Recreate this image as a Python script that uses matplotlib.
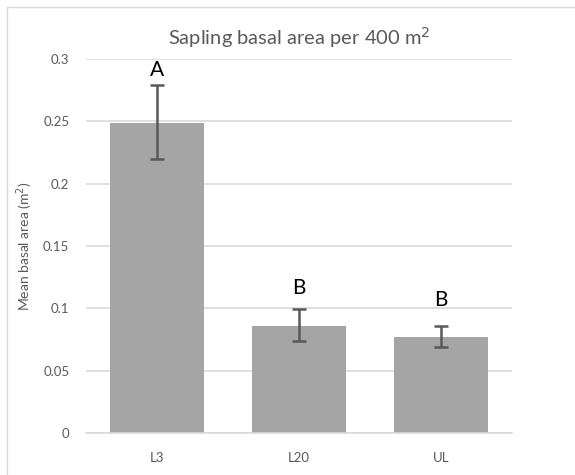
import numpy as np
import matplotlib.pyplot as plt
from matplotlib.patches import Rectangle

# 数据
categories = ["L3", "L20", "UL"]
means = [0.249, 0.086, 0.0773]
err_low = [0.029, 0.0122, 0.0086]
err_high = [0.030, 0.0132, 0.0083]
letters = ["A", "B", "B"]
letter_y = [0.291, 0.116, 0.107]
yticks = [0, 0.05, 0.1, 0.15, 0.2, 0.25, 0.3]
ytick_labels = ["0", "0.05", "0.1", "0.15", "0.2", "0.25", "0.3"]

plt.rcParams["font.family"] = ["Lato", "DejaVu Sans"]

fig = plt.figure(figsize=(5.75, 4.75), dpi=100)
# 外框
fig.patches.append(Rectangle((7 / 575, -0.1), 1.2, 1 - 7 / 475 + 0.1,
                             transform=fig.transFigure, fill=False,
                             edgecolor="#d9d9d9", linewidth=1))

ax = fig.add_axes([0.1496, 0.0884, 0.7409, 0.7874])
x = np.arange(len(categories))
ax.bar(x, means, width=0.66, color="#a5a5a5", zorder=2)
ax.errorbar(x, means, yerr=[err_low, err_high], fmt="none",
            ecolor="#595959", elinewidth=1.8, capsize=5, capthick=1.8, zorder=3)
for xi, lab, ly in zip(x, letters, letter_y):
    ax.text(xi, ly, lab, ha="center", va="center", fontsize=15, color="black")

ax.set_xlim(-0.5, 2.5)
ax.set_ylim(0, 0.3)
ax.set_yticks(yticks)
ax.set_yticklabels(ytick_labels)
ax.set_xticks(x)
ax.set_xticklabels(categories)
ax.yaxis.grid(True, color="#d9d9d9", linewidth=1.2, zorder=0)
ax.set_axisbelow(True)
for s in ["top", "right", "left"]:
    ax.spines[s].set_visible(False)
ax.spines["bottom"].set_color("#d9d9d9")
ax.spines["bottom"].set_linewidth(1.2)
ax.tick_params(axis="both", length=0, colors="#595959", labelsize=9.5)
ax.tick_params(axis="x", pad=14)
ax.tick_params(axis="y", pad=12)

ax.set_ylabel("Mean basal area (m$^2$)", fontsize=10, color="#595959", labelpad=6)
ax.set_title("Sapling basal area per 400 m$^2$", fontsize=14.5, color="#595959", pad=10)

fig.savefig("out.png", dpi=100)
